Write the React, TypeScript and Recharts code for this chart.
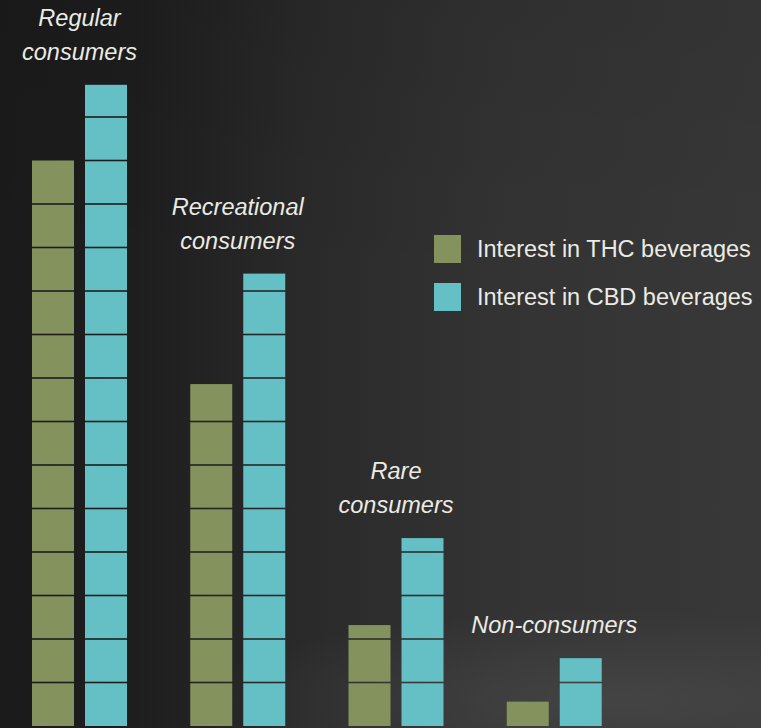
import React from "react";
import { BarChart, Bar, XAxis, YAxis, LabelList } from "recharts";

// Share of each group interested (one segment = 5 points)
const groups = ["Regular consumers", "Recreational consumers", "Rare consumers", "Non-consumers"];
const groupLines = [["Regular", "consumers"], ["Recreational", "consumers"], ["Rare", "consumers"], ["Non-consumers"]];
const thcInterest = [65, 39.3, 11.6, 2.8];
const cbdInterest = [73.7, 52, 21.6, 7.8];
const seriesNames = ["Interest in THC beverages", "Interest in CBD beverages"];

const SEGMENT = 5;
const THC_COLOR = "#84935e";
const CBD_COLOR = "#65c0c5";
const TEXT_COLOR = "#ebebe5";
const FONT = "'Liberation Sans', Arial, Helvetica, sans-serif";

const data = groups.map((name, i) => ({
  name,
  lines: groupLines[i],
  thc: thcInterest[i],
  cbd: cbdInterest[i],
}));

// bar split into stacked blocks, one per SEGMENT units
const SegmentedBar = (props: any) => {
  const { x, y, width, height, fill, payload, dataKey } = props;
  const v = payload[dataKey];
  if (!v || height <= 0) return null;
  const seg = (height / v) * SEGMENT;
  const bottom = y + height;
  const gap = 1.6;
  const rects = [];
  for (let k = 0; bottom - k * seg > y + 0.5; k++) {
    const segBottom = bottom - k * seg - (k > 0 ? gap / 2 : 0);
    const rawTop = bottom - (k + 1) * seg;
    const segTop = rawTop <= y ? y : rawTop + gap / 2;
    rects.push(
      <rect key={k} x={x} y={segTop} width={width} height={Math.max(0, segBottom - segTop)} fill={fill} />
    );
  }
  return <g>{rects}</g>;
};

const GroupLabel = (props: any) => {
  const { x, y, width, index } = props;
  const lines: string[] = data[index].lines;
  const cx = x + width - 47.5;
  return (
    <text textAnchor="middle" fill={TEXT_COLOR} fontFamily={FONT} fontStyle="italic" fontSize={23.5}>
      {lines.map((l, i) => (
        <tspan key={i} x={cx} y={y - 25 - (lines.length - 1 - i) * 34}>
          {l}
        </tspan>
      ))}
    </text>
  );
};

const legendItems = [
  { name: seriesNames[0], color: THC_COLOR },
  { name: seriesNames[1], color: CBD_COLOR },
];

export default function App() {
  return (
    <div
      style={{
        position: "absolute",
        left: 0,
        top: 0,
        width: 761,
        height: 728,
        overflow: "hidden",
        background:
          "radial-gradient(ellipse 420px 90px at 620px 700px, rgba(80,80,82,0.55), rgba(80,80,82,0) 100%), linear-gradient(to bottom, rgba(0,0,0,0.08), rgba(0,0,0,0) 40%), linear-gradient(to right, #1b1b1b 0%, #1e1e1e 18%, #2a2a2a 40%, #333333 65%, #383838 100%)",
      }}
    >
      <BarChart
        width={761}
        height={728}
        data={data}
        margin={{ top: 30, right: 128, left: 0, bottom: 2 }}
        barSize={42}
        barGap={11}
      >
        <XAxis dataKey="name" hide />
        <YAxis hide domain={[0, 80]} />
        <Bar
          dataKey="thc"
          name={seriesNames[0]}
          fill={THC_COLOR}
          shape={<SegmentedBar />}
          isAnimationActive={false}
        />
        <Bar
          dataKey="cbd"
          name={seriesNames[1]}
          fill={CBD_COLOR}
          shape={<SegmentedBar />}
          isAnimationActive={false}
        >
          <LabelList dataKey="cbd" content={<GroupLabel />} />
        </Bar>
      </BarChart>
      <div style={{ position: "absolute", left: 434, top: 225 }}>
        {legendItems.map((item) => (
          <div key={item.name} style={{ display: "flex", alignItems: "center", height: 48 }}>
            <div style={{ width: 27, height: 28, background: item.color, marginRight: 16 }} />
            <span style={{ color: TEXT_COLOR, fontFamily: FONT, fontSize: 23.5, whiteSpace: "nowrap" }}>
              {item.name}
            </span>
          </div>
        ))}
      </div>
    </div>
  );
}
